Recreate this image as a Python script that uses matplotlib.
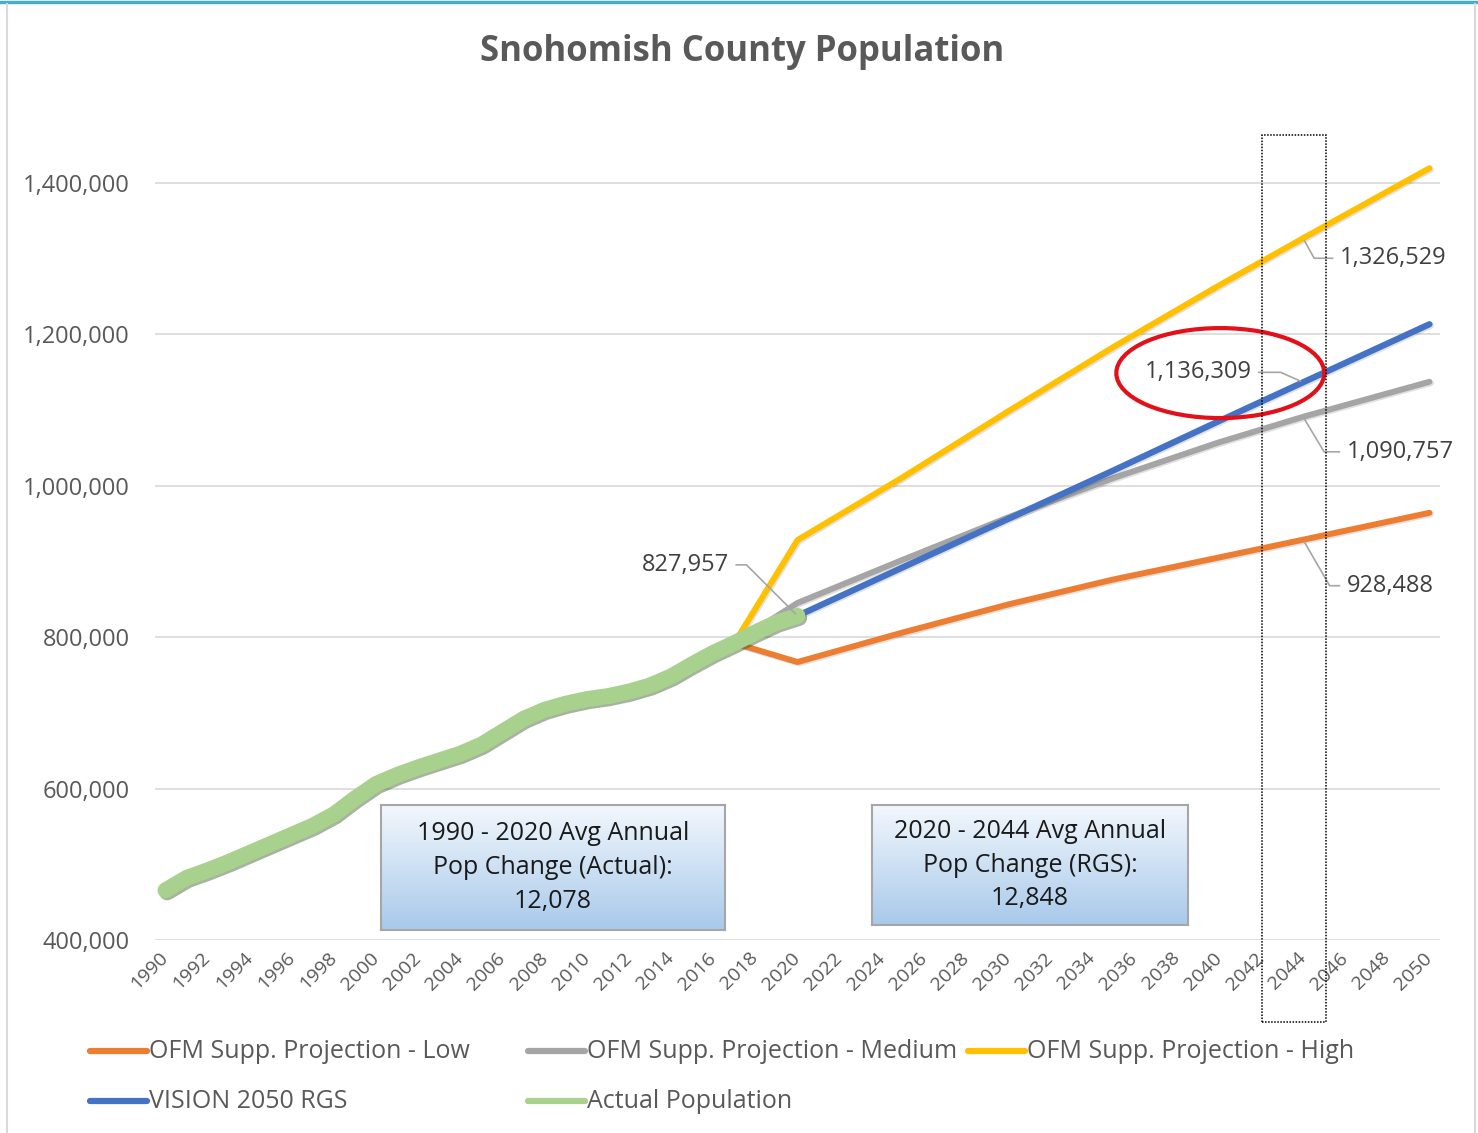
import matplotlib
matplotlib.use('Agg')
import matplotlib.pyplot as plt
import matplotlib.patheffects as pe
from matplotlib.patches import Ellipse, Rectangle
from matplotlib.lines import Line2D
import numpy as np

plt.rcParams['font.family'] = ['Open Sans', 'DejaVu Sans']

# ---------------------------------------------------------------
# Data
# ---------------------------------------------------------------
actual_years = list(range(1990, 2021))
actual_pop = [465642, 482000, 492000, 503000, 515000, 527000, 539000, 551000,
              566000, 587000, 606000, 618000, 628000, 637000, 646000, 658000,
              675000, 692000, 704000, 712000, 718000, 722000, 728000, 736000,
              748000, 764000, 779000, 792000, 806000, 819000, 827957]

proj_years = [2017, 2020, 2025, 2030, 2035, 2040, 2044, 2050]
ofm_low = [792000, 767000, 806000, 843000, 876000, 905000, 928488, 964000]
ofm_med = [792000, 845000, 902000, 958000, 1010000, 1057000, 1090757, 1137000]
ofm_high = [792000, 928000, 1011000, 1098000, 1183000, 1264000, 1326529, 1419000]

rgs_years = [2020, 2025, 2030, 2035, 2040, 2044, 2050]
rgs_pop = [827957, 892000, 956000, 1020000, 1085000, 1136309, 1213000]

names = ['OFM Supp. Projection - Low', 'OFM Supp. Projection - Medium',
         'OFM Supp. Projection - High', 'VISION 2050 RGS', 'Actual Population']
colors = ['#ED7D31', '#A5A5A5', '#FFC000', '#4472C4', '#A9D18E']

y_ticks = [400000, 600000, 800000, 1000000, 1200000, 1400000]
x_ticks = list(range(1990, 2051, 2))

txt_gray = '#595959'

# ---------------------------------------------------------------
# Figure
# ---------------------------------------------------------------
fig = plt.figure(figsize=(14.78, 11.33), dpi=100)
ax = fig.add_axes([155 / 1478, 193 / 1133, 1285 / 1478, 818 / 1133])

shadow = [pe.SimpleLineShadow(offset=(1, -1), shadow_color='k', alpha=0.12), pe.Normal()]

ax.plot(proj_years, ofm_low, color=colors[0], lw=4.3, solid_capstyle='round', path_effects=shadow, zorder=3)
ax.plot(proj_years, ofm_med, color=colors[1], lw=4.3, solid_capstyle='round', path_effects=shadow, zorder=3)
ax.plot(proj_years, ofm_high, color=colors[2], lw=4.3, solid_capstyle='round', path_effects=shadow, zorder=3)
ax.plot(rgs_years, rgs_pop, color=colors[3], lw=4.5, solid_capstyle='round', path_effects=shadow, zorder=4)
ax.plot(actual_years, actual_pop, color=colors[4], lw=11.5, solid_capstyle='round',
        solid_joinstyle='round',
        path_effects=[pe.SimpleLineShadow(offset=(1.2, -1.5), shadow_color='#3a5a2a', alpha=0.45), pe.Normal()],
        zorder=5)

ax.set_xlim(1989.5, 2050.5)
ax.set_ylim(400000, 1480000)
ax.set_yticks(y_ticks)
ax.set_yticklabels([f'{v:,}' for v in y_ticks], fontsize=17, color=txt_gray)
ax.set_xticks(x_ticks)
ax.set_xticklabels([str(y) for y in x_ticks], rotation=45, ha='right', va='center',
                   rotation_mode='anchor', fontsize=14, color=txt_gray)
ax.tick_params(axis='y', length=0, pad=18)
ax.tick_params(axis='x', length=0, pad=11)
ax.grid(axis='y', color='#D9D9D9', lw=1.2)
ax.set_axisbelow(True)
for s in ax.spines.values():
    s.set_visible(False)

# data labels with leader lines
lab_kw = dict(fontsize=17, color='#404040', textcoords='offset pixels', va='center')
leader = dict(arrowstyle='-', color='#A6A6A6', lw=1.2, shrinkA=3, shrinkB=2)
ax.annotate('827,957', xy=(2020, 827957), xytext=(-112, 51), ha='center',
            arrowprops=dict(leader, connectionstyle='angle,angleA=0,angleB=135,rad=0'), zorder=6, **lab_kw)
ax.annotate('1,326,529', xy=(2044, 1326529), xytext=(90, -20), ha='center',
            arrowprops=dict(leader, connectionstyle='angle,angleA=0,angleB=-61,rad=0'), zorder=6, **lab_kw)
ax.annotate('1,136,309', xy=(2044, 1136309), xytext=(-105, 10), ha='center',
            arrowprops=dict(leader, connectionstyle='angle,angleA=0,angleB=156,rad=0'), zorder=6, **lab_kw)
ax.annotate('1,090,757', xy=(2044, 1090757), xytext=(97, -35), ha='center',
            arrowprops=dict(leader, connectionstyle='angle,angleA=0,angleB=-59,rad=0'), zorder=6, **lab_kw)
ax.annotate('928,488', xy=(2044, 928488), xytext=(87, -46), ha='center',
            arrowprops=dict(leader, connectionstyle='angle,angleA=0,angleB=-60,rad=0'), zorder=6, **lab_kw)

# red circle around the RGS 2044 label
ax.add_patch(Ellipse((2040.07, 1148500), 9.87, 118800, fill=False, edgecolor='#E3101A', lw=3, zorder=7))

# dotted box around 2044
ax.add_patch(Rectangle((2042.07, 291750), 3.04, 1170950, fill=False, edgecolor='black',
                       ls=(0, (1, 1)), lw=1.1, clip_on=False, zorder=8))

# ---------------------------------------------------------------
# Text boxes with gradient fill
# ---------------------------------------------------------------
grad = np.linspace(0, 1, 256).reshape(-1, 1)
top_c = np.array([0.95, 0.97, 0.99])
bot_c = np.array([0.66, 0.79, 0.92])
img = top_c + (bot_c - top_c) * grad[:, :, None]


def note_box(rect, lines):
    b = fig.add_axes(rect)
    b.imshow(img, aspect='auto', extent=(0, 1, 0, 1))
    b.set_xticks([])
    b.set_yticks([])
    for s in b.spines.values():
        s.set_color('#A6A6A6')
        s.set_linewidth(1.5)
    b.text(0.5, 0.5, '\n'.join(lines), ha='center', va='center', fontsize=18,
           color='#1A1A1A', linespacing=1.45, transform=b.transAxes)


note_box([381 / 1478, 203 / 1133, 344 / 1478, 125 / 1133],
         ['1990 - 2020 Avg Annual', 'Pop Change (Actual):', '12,078'])
note_box([872 / 1478, 208 / 1133, 316 / 1478, 120 / 1133],
         ['2020 - 2044 Avg Annual', 'Pop Change (RGS):', '12,848'])

# ---------------------------------------------------------------
# Title, legend, frame
# ---------------------------------------------------------------
fig.text(742 / 1478, 1 - 52 / 1133, 'Snohomish County Population', ha='center', va='center',
         fontsize=25, fontweight='bold', color=txt_gray)

leg_pos = [(90, 1051), (528, 1051), (968, 1051), (90, 1101), (528, 1101)]
for (px, py), name, c in zip(leg_pos, names, colors):
    yf = 1 - py / 1133
    fig.add_artist(Line2D([px / 1478, (px + 57) / 1478], [yf, yf], color=c, lw=4.5,
                          solid_capstyle='round', transform=fig.transFigure))
    fig.text((px + 59) / 1478, yf, name, ha='left', va='center', fontsize=18, color=txt_gray)

fig.add_artist(Line2D([0, 1], [1 - 1.5 / 1133, 1 - 1.5 / 1133], color='#4BACC6', lw=2.5,
                      transform=fig.transFigure))
fig.add_artist(Line2D([7 / 1478, 7 / 1478], [0, 1 - 4 / 1133], color='#D9D9D9', lw=1.5,
                      transform=fig.transFigure))
fig.add_artist(Line2D([1475 / 1478, 1475 / 1478], [0, 1 - 4 / 1133], color='#D9D9D9', lw=1.5,
                      transform=fig.transFigure))

fig.savefig('out.png', dpi=100)
